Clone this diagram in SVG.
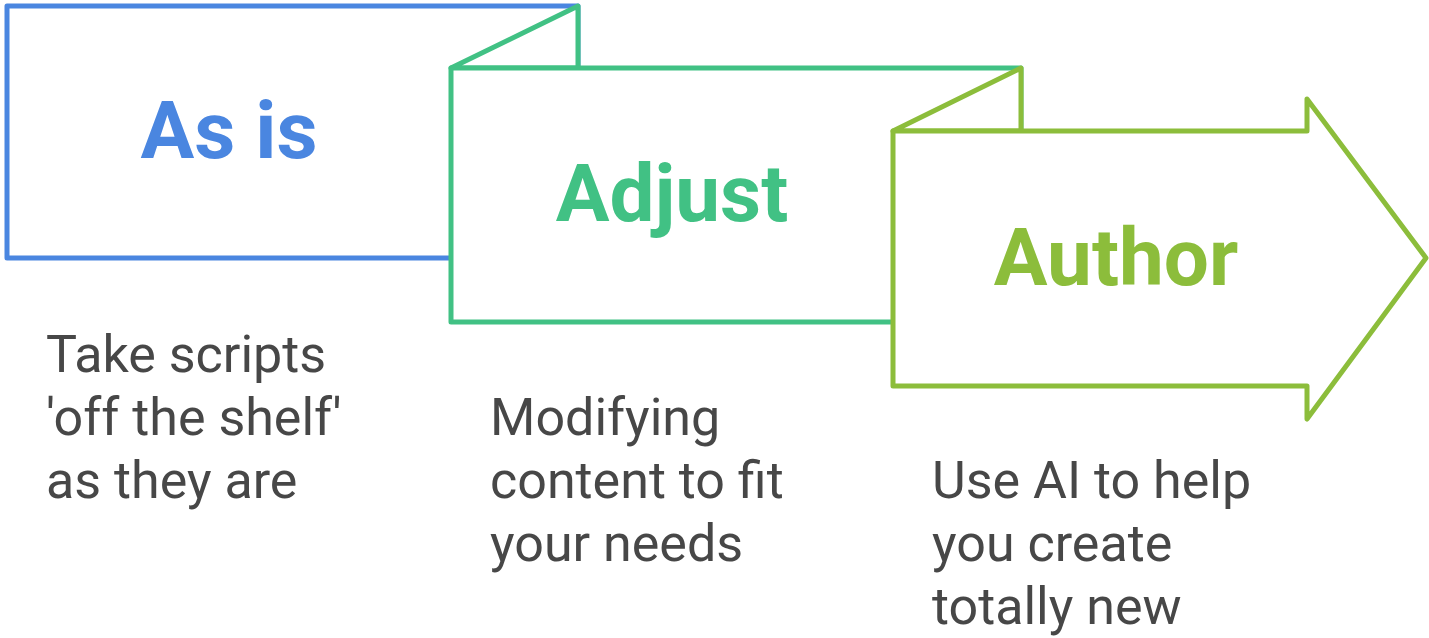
<svg xmlns="http://www.w3.org/2000/svg" width="1429" height="638" viewBox="0 0 1429 638">
  <style>
    .shape { fill: #ffffff; stroke-width: 5; stroke-linejoin: round; }
    .blue { stroke: #4a86e0; }
    .green { stroke: #41c184; }
    .olive { stroke: #8cbd3b; }
    .title { font-family: Roboto, "Liberation Sans", sans-serif; font-weight: 700; font-size: 80px; text-anchor: middle; }
    .desc { font-family: Roboto, "Liberation Sans", sans-serif; font-size: 52px; fill: #474747; }
  </style>
  <rect width="1429" height="638" fill="#ffffff"/>

  <g id="connectors"></g>

  <!-- Stage 1: plain panel -->
  <g id="node-as-is">
    <rect class="shape blue" x="7" y="6" width="571" height="252"/>
    <text class="title" x="229" y="158" fill="#4a86e0">As is</text>
    <text class="desc" x="46" y="372">Take scripts</text>
    <text class="desc" x="46" y="435">'off the shelf'</text>
    <text class="desc" x="46" y="498">as they are</text>
  </g>

  <!-- Stage 2: panel folded over the first one -->
  <g id="node-adjust">
    <polygon class="shape green" points="451,68 578,6 578,68"/>
    <rect class="shape green" x="451" y="68" width="570" height="254"/>
    <text class="title" x="672" y="221" fill="#41c184">Adjust</text>
    <text class="desc" x="490" y="435">Modifying</text>
    <text class="desc" x="490" y="498">content to fit</text>
    <text class="desc" x="490" y="561">your needs</text>
  </g>

  <!-- Stage 3: arrow panel folded over the second one -->
  <g id="node-author">
    <polygon class="shape olive" points="893,131 1021,68 1021,131"/>
    <polygon class="shape olive" points="893,131 1307,131 1307,99 1426,258 1307,419 1307,386 893,386"/>
    <text class="title" x="1116" y="285" fill="#8cbd3b">Author</text>
    <text class="desc" x="932" y="498">Use AI to help</text>
    <text class="desc" x="932" y="561">you create</text>
    <text class="desc" x="932" y="624">totally new</text>
  </g>
</svg>
